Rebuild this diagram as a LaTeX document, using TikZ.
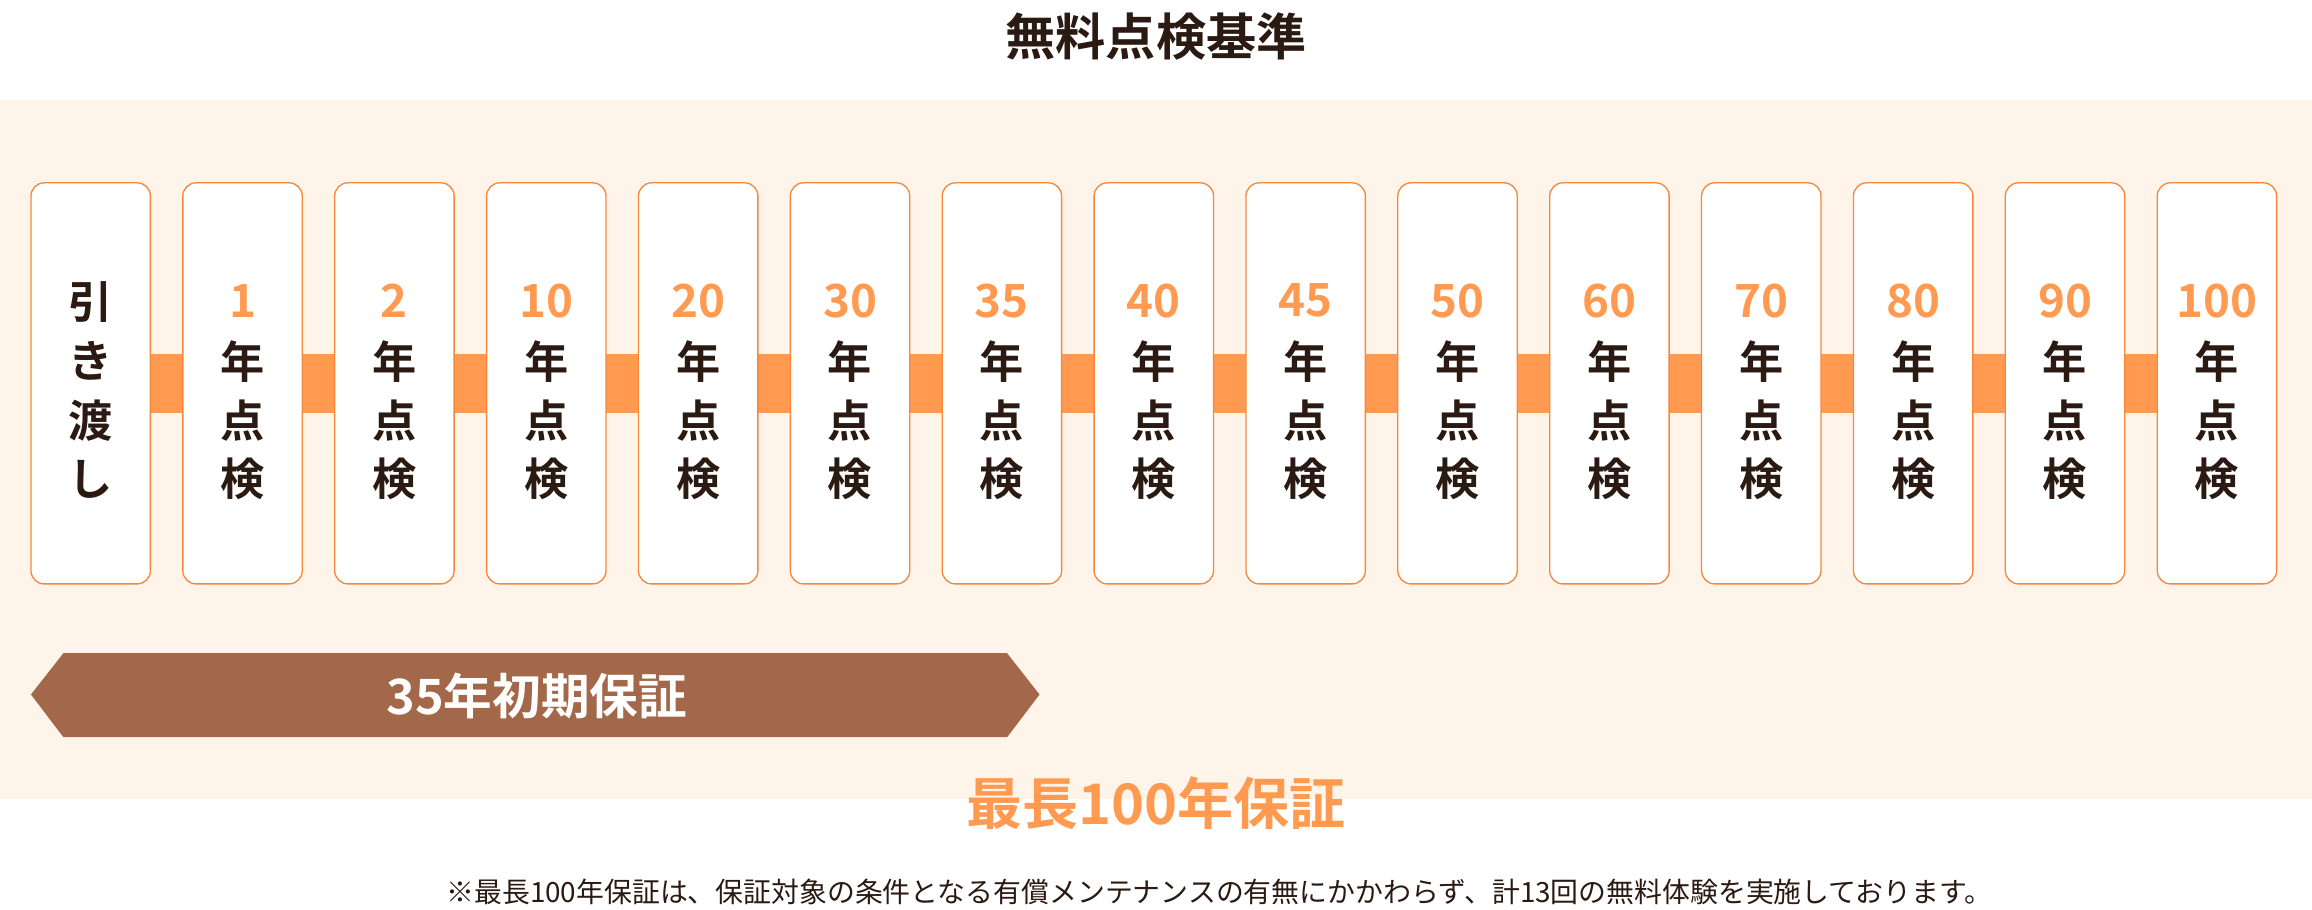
\documentclass[tikz,border=0pt]{standalone}
\usepackage{fontspec}
\setmainfont{Noto Sans CJK JP}[BoldFont={* Bold}]
\newfontfamily\jpb{Noto Sans CJK JP Bold}
\definecolor{cream}{HTML}{FEF4EA}
\definecolor{orng}{HTML}{FF9A50}
\definecolor{bord}{HTML}{F5883A}
\definecolor{brn}{HTML}{A3674A}
\definecolor{ink}{HTML}{2A1A12}
\begin{document}
\begin{tikzpicture}[x=1pt,y=-1pt,
  card/.style={draw=bord,line width=0.9pt,fill=white,rounded corners=9pt,minimum width=81pt,minimum height=272pt,inner sep=0pt},
  glyph/.style={font=\jpb\fontsize{30}{30}\selectfont,text=ink},
  num/.style={font=\jpb\fontsize{31}{31}\selectfont,text=orng}]
\useasboundingbox (0,0) rectangle (1568,617);
\fill[white] (0,0) rectangle (1568,617);
\fill[cream] (0,68) rectangle (1568,542);
\node[font=\jpb\fontsize{34}{34}\selectfont,text=ink] (title) at (784,25) {無料点検基準};
\foreach \i in {0,...,14}{
  \coordinate (c\i) at ({61.5+103*\i},260);
}
\foreach \i [evaluate=\i as \j using int(\i+1)] in {0,...,13}{
  \fill[orng] ([xshift=40pt,yshift=-20pt]c\i) rectangle ([xshift=-40pt,yshift=20pt]c\j);
}
\foreach \i in {0,...,14}{ \node[card] (b\i) at (c\i) {}; }
\node[glyph] at ([yshift=55pt]c0) {引};
\node[glyph] at ([yshift=15pt]c0) {き};
\node[glyph] at ([yshift=-25pt]c0) {渡};
\node[glyph] at ([yshift=-65pt]c0) {し};
\foreach \n [count=\k] in {1,2,10,20,30,35,40,45,50,60,70,80,90,100}{
  \node[num] at ([yshift=56pt]c\k) {\n};
  \node[glyph] at ([yshift=15pt]c\k) {年};
  \node[glyph] at ([yshift=-25pt]c\k) {点};
  \node[glyph] at ([yshift=-65pt]c\k) {検};
}
\fill[brn] (21,471) -- (43,443) -- (683,443) -- (705,471) -- (683,500) -- (43,500) -- cycle;
\node[font=\jpb\fontsize{33}{33}\selectfont,text=white] (ban) at (364,472) {35年初期保証};
\node[font=\jpb\fontsize{38}{38}\selectfont,text=orng] (max) at (784,545) {最長100年保証};
\node[font=\fontsize{18.9}{19}\selectfont,text=ink] (note) at (827,605) {※最長100年保証は、保証対象の条件となる有償メンテナンスの有無にかかわらず、計13回の無料体験を実施しております。};
\end{tikzpicture}
\end{document}
